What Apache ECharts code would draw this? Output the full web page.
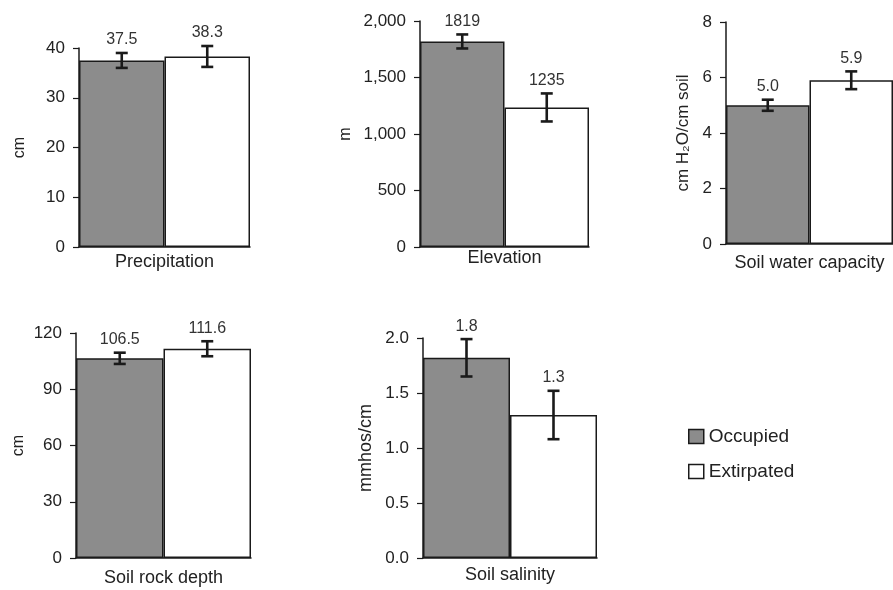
<!DOCTYPE html>
<html>
<head>
<meta charset="utf-8">
<script src="https://cdn.jsdelivr.net/npm/echarts@6/dist/echarts.min.js"></script>
<style>
html,body{margin:0;padding:0;background:#fff;}
#c{width:893px;height:590px;}
</style>
</head>
<body>
<div id="c"></div>
<script>
// ---- data ----
const categories = ['Precipitation', 'Elevation', 'Soil water capacity', 'Soil rock depth', 'Soil salinity'];
const seriesNames = ['Occupied', 'Extirpated'];
const occupied = [37.5, 1819, 5.0, 106.5, 1.82];
const extirpated = [38.3, 1235, 5.9, 111.6, 1.30];
const occupiedErr = [1.5, 62, 0.2, 3.0, 0.17];
const extirpatedErr = [2.1, 124, 0.32, 4.0, 0.22];
const labelDecimals = [1, 0, 1, 1, 1];
const axisNames = ['cm', 'm', 'cm H\u2082O/cm soil', 'cm', 'mmhos/cm'];
const axisMax = [40, 2000, 8, 120, 2.0];
const axisInterval = [10, 500, 2, 30, 0.5];
const tickDecimals = [0, 0, 0, 0, 1];
const tickThousands = [false, true, false, false, false];

// ---- layout (positions / styles) ----
const layout = [
  {left: 79, top: 48, width: 171, height: 199, nameGap: 51, nameSize: 16, xMargin: 6},
  {left: 420, top: 21, width: 169, height: 226, nameGap: 66, nameSize: 16, xMargin: 2},
  {left: 726, top: 22, width: 172, height: 222, nameGap: 34, nameSize: 17, xMargin: 10},
  {left: 76, top: 333, width: 175, height: 225, nameGap: 49, nameSize: 16, xMargin: 11},
  {left: 423, top: 338, width: 174, height: 220, nameGap: 48, nameSize: 18, xMargin: 8}
];
const FONT = 'Liberation Sans, Arial, sans-serif';
const INK = '#1a1a1a';
const GRAY = '#8c8c8c';

const chart = echarts.init(document.getElementById('c'), null, {renderer: 'canvas'});

const grid = [], xAxis = [], yAxis = [], series = [];

function errRender(panel, side, val, err) {
  const txt = val.toFixed(labelDecimals[panel]);
  return function (params, api) {
    const c = api.coord([api.value(0), api.value(1)]);
    const band = api.size([1, 0])[0];
    const x = c[0] + side * band / 4;
    const top = api.coord([api.value(0), api.value(1) + api.value(2)])[1];
    const bot = api.coord([api.value(0), api.value(1) - api.value(2)])[1];
    const half = 6;
    const st = {stroke: INK, lineWidth: 2.6};
    return {
      type: 'group',
      children: [
        {type: 'line', shape: {x1: x, y1: top, x2: x, y2: bot}, style: st},
        {type: 'line', shape: {x1: x - half, y1: top, x2: x + half, y2: top}, style: st},
        {type: 'line', shape: {x1: x - half, y1: bot, x2: x + half, y2: bot}, style: st},
        {type: 'text', x: x, y: top - 13, style: {
          text: txt, align: 'center', verticalAlign: 'middle',
          fontSize: 16, fontFamily: FONT, fill: '#333'
        }}
      ]
    };
  };
}

categories.forEach(function (cat, i) {
  const L = layout[i];
  grid.push({left: L.left, top: L.top, width: L.width, height: L.height});
  xAxis.push({
    type: 'category', gridIndex: i, data: [cat],
    axisLine: {show: true, lineStyle: {color: INK, width: 1.5}},
    axisTick: {show: false},
    axisLabel: {color: '#222', fontSize: 18, fontFamily: FONT, margin: L.xMargin, verticalAlign: 'top'}
  });
  yAxis.push({
    type: 'value', gridIndex: i, min: 0, max: axisMax[i], interval: axisInterval[i],
    name: axisNames[i], nameLocation: 'middle', nameGap: L.nameGap,
    nameTextStyle: {color: '#222', fontSize: L.nameSize, fontFamily: FONT},
    axisLine: {show: true, lineStyle: {color: INK, width: 1.5}},
    axisTick: {show: true, length: 6, lineStyle: {color: INK, width: 1.2}},
    splitLine: {show: false},
    axisLabel: {
      color: '#222', fontSize: 17, fontFamily: FONT, margin: 14,
      formatter: function (v) {
        return tickThousands[i] ? Number(v).toLocaleString('en-US') : Number(v).toFixed(tickDecimals[i]);
      }
    }
  });
  series.push({
    name: seriesNames[0], type: 'bar', xAxisIndex: i, yAxisIndex: i,
    data: [occupied[i]], barGap: '0%', barCategoryGap: '0%',
    itemStyle: {color: GRAY, borderColor: INK, borderWidth: 1.5}
  });
  series.push({
    name: seriesNames[1], type: 'bar', xAxisIndex: i, yAxisIndex: i,
    data: [extirpated[i]], barGap: '0%', barCategoryGap: '0%',
    itemStyle: {color: '#ffffff', borderColor: INK, borderWidth: 1.5}
  });
  series.push({
    type: 'custom', xAxisIndex: i, yAxisIndex: i, z: 5,
    data: [[0, occupied[i], occupiedErr[i]]],
    renderItem: errRender(i, -1, occupied[i], occupiedErr[i])
  });
  series.push({
    type: 'custom', xAxisIndex: i, yAxisIndex: i, z: 5,
    data: [[0, extirpated[i], extirpatedErr[i]]],
    renderItem: errRender(i, 1, extirpated[i], extirpatedErr[i])
  });
});

chart.setOption({
  backgroundColor: '#ffffff',
  animation: false,
  legend: {
    data: seriesNames, orient: 'vertical', left: 683, top: 422,
    icon: 'rect', itemWidth: 15, itemHeight: 14, itemGap: 16,
    itemStyle: {borderColor: INK, borderWidth: 1.5},
    textStyle: {color: '#222', fontSize: 19, fontFamily: FONT},
    selectedMode: false
  },
  grid: grid, xAxis: xAxis, yAxis: yAxis, series: series
});
</script>
</body>
</html>
